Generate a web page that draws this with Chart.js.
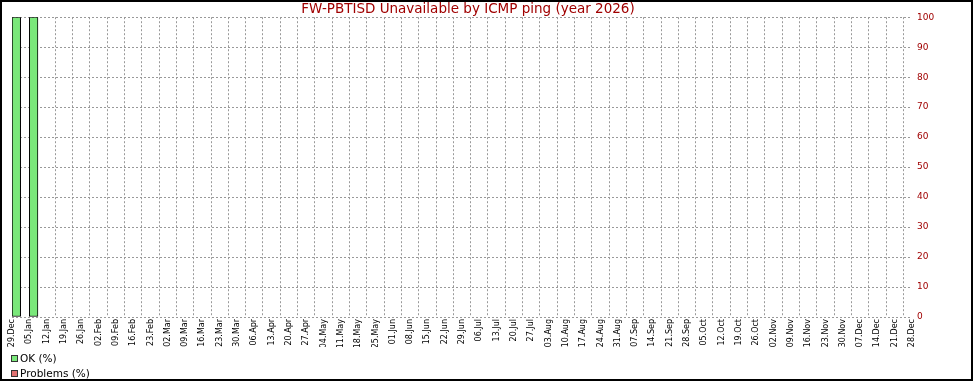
<!DOCTYPE html>
<html>
<head>
<meta charset="utf-8">
<script src="https://cdn.jsdelivr.net/npm/chart.js@4/dist/chart.umd.min.js"></script>
<style>
  html, body { margin: 0; padding: 0; background: #fff; }
  #wrap { position: relative; width: 973px; height: 382px; overflow: hidden; }
  #c { position: absolute; left: 0; top: 0; }
  #frame { position: absolute; left: 0; top: 0; width: 973px; height: 381px; box-sizing: border-box; border: 2px solid #000; pointer-events: none; }
</style>
</head>
<body>
<div id="wrap">
  <canvas id="c" width="973" height="382"></canvas>
  <div id="frame"></div>
</div>
<script>
const chartTitle = 'FW-PBTISD Unavailable by ICMP ping (year 2026)';
const weekLabels = ['29.Dec','05.Jan','12.Jan','19.Jan','26.Jan','02.Feb','09.Feb','16.Feb','23.Feb','02.Mar','09.Mar','16.Mar','23.Mar','30.Mar','06.Apr','13.Apr','20.Apr','27.Apr','04.May','11.May','18.May','25.May','01.Jun','08.Jun','15.Jun','22.Jun','29.Jun','06.Jul','13.Jul','20.Jul','27.Jul','03.Aug','10.Aug','17.Aug','24.Aug','31.Aug','07.Sep','14.Sep','21.Sep','28.Sep','05.Oct','12.Oct','19.Oct','26.Oct','02.Nov','09.Nov','16.Nov','23.Nov','30.Nov','07.Dec','14.Dec','21.Dec','28.Dec'];
const weekPeriods = weekLabels.slice(0, 52);
const okPct = [100,100,null,null,null,null,null,null,null,null,null,null,null,null,null,null,null,null,null,null,null,null,null,null,null,null,null,null,null,null,null,null,null,null,null,null,null,null,null,null,null,null,null,null,null,null,null,null,null,null,null,null];
const problemPct = [0,0,null,null,null,null,null,null,null,null,null,null,null,null,null,null,null,null,null,null,null,null,null,null,null,null,null,null,null,null,null,null,null,null,null,null,null,null,null,null,null,null,null,null,null,null,null,null,null,null,null,null];
const yTicks = [0,10,20,30,40,50,60,70,80,90,100];

const FONT = 'DejaVu Sans';
const RED = '#a00000';
const GRID = '#999999';

const legendPlugin = {
  id: 'stackLegend',
  afterDraw(chart) {
    const ctx = chart.ctx;
    ctx.save();
    ctx.font = '10.5px "' + FONT + '"';
    ctx.textBaseline = 'alphabetic';
    ctx.textAlign = 'left';
    chart.data.datasets.forEach((ds, i) => {
      const y = 356 + i * 15;
      ctx.fillStyle = ds.legendColor;
      ctx.fillRect(12, y, 5, 5);
      ctx.strokeStyle = '#333';
      ctx.lineWidth = 1;
      ctx.strokeRect(11.5, y - 0.5, 6, 6);
      ctx.fillStyle = '#000';
      ctx.fillText(ds.label, 20, y + 6);
    });
    ctx.restore();
  }
};

new Chart(document.getElementById('c'), {
  type: 'bar',
  data: {
    labels: weekPeriods,
    datasets: [
      { label: 'OK (%)', data: okPct, xAxisID: 'xb', yAxisID: 'y', backgroundColor: '#7ae87a', legendColor: '#7ae87a', borderColor: '#000', borderWidth: 1, borderSkipped: false, categoryPercentage: 1, barPercentage: 1 },
      { label: 'Problems (%)', data: problemPct, xAxisID: 'xb', yAxisID: 'y', backgroundColor: '#e07070', legendColor: '#e07070', borderColor: '#000', borderWidth: 1, borderSkipped: false, categoryPercentage: 1, barPercentage: 1 }
    ]
  },
  options: {
    responsive: false,
    animation: false,
    devicePixelRatio: 1,
    layout: { padding: { left: 0, right: 37, top: 0, bottom: 35 } },
    plugins: {
      legend: { display: false },
      tooltip: { enabled: false },
      title: {
        display: true,
        text: chartTitle,
        color: RED,
        font: { family: FONT, size: 13.5, weight: 'normal', lineHeight: 1.2 },
        padding: { top: 1, bottom: 0 }
      }
    },
    scales: {
      x: {
        type: 'category',
        labels: weekLabels,
        offset: false,
        position: 'bottom',
        border: { display: false, dash: [2, 2] },
        grid: { color: GRID, lineWidth: 1, drawTicks: false, tickLength: 0 },
        ticks: { autoSkip: false, maxRotation: 90, minRotation: 90, padding: 2, color: '#000', font: { family: FONT, size: 8 } },
        afterFit(s) { s.height = 30; }
      },
      xb: {
        type: 'category',
        labels: weekPeriods,
        offset: true,
        display: false,
        grid: { offset: true }
      },
      yl: {
        position: 'left',
        min: 0,
        max: 100,
        display: true,
        border: { display: false },
        grid: { display: false },
        ticks: { display: false },
        afterFit(s) { s.width = 12; }
      },
      y: {
        position: 'right',
        min: 0,
        max: 100,
        border: { display: false, dash: [2, 2] },
        grid: { color: GRID, lineWidth: 1, drawTicks: false, tickLength: 0 },
        afterBuildTicks(s) { s.ticks = yTicks.map(v => ({ value: v })); },
        ticks: { padding: 5, color: RED, font: { family: FONT, size: 9 } },
        afterFit(s) { s.width = 24; }
      }
    }
  },
  plugins: [legendPlugin]
});
</script>
</body>
</html>
